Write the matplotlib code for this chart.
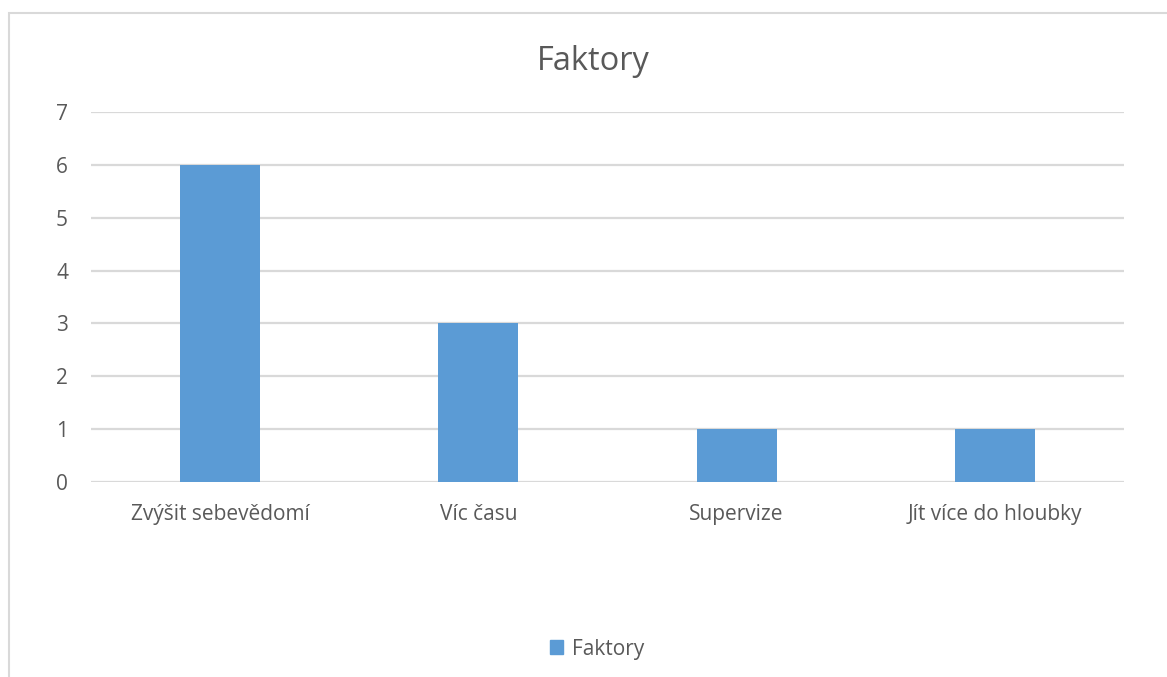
import matplotlib
matplotlib.use("Agg")
import matplotlib.pyplot as plt
from matplotlib.patches import Rectangle, Patch

categories = ["Zvýšit sebevědomí", "Víc času", "Supervize", "Jít více do hloubky"]
values = [6, 3, 1, 1]
series_name = "Faktory"
title = "Faktory"
yticks = [0, 1, 2, 3, 4, 5, 6, 7]

W, H = 1167, 677
fig = plt.figure(figsize=(W / 100, H / 100), dpi=100)
plt.rcParams['font.family'] = ['Open Sans', 'DejaVu Sans']

txt = "#595959"
bar_color = "#5B9BD5"
grid_color = "#D9D9D9"

# chart border
fig.patches.append(Rectangle((9 / W, -0.01), 1.0, 1 - 13 / H + 0.01, transform=fig.transFigure,
                             fill=False, edgecolor=grid_color, linewidth=1.5))

ax = fig.add_axes([91 / W, 1 - 482 / H, (1124 - 91) / W, (482 - 112) / H])
x = list(range(len(categories)))
ax.bar(x, values, width=0.31, color=bar_color, zorder=3)
ax.set_xlim(-0.5, len(categories) - 0.5)
ax.set_ylim(0, 7)
ax.set_yticks(yticks)
ax.set_xticks(x)
ax.set_xticklabels(categories)
ax.grid(axis="y", color=grid_color, linewidth=1.6, zorder=0)
for s in ax.spines.values():
    s.set_visible(False)
ax.tick_params(axis="both", length=0, colors=txt, labelsize=15)
ax.tick_params(axis="y", pad=16.5)
ax.tick_params(axis="x", pad=16)

fig.text(593 / W, 1 - 62 / H, title, ha="center", va="center", fontsize=23.5, color=txt)

leg = fig.legend(handles=[Patch(color=bar_color, label=series_name)], loc="center",
                 bbox_to_anchor=(597 / W, 1 - 649 / H), frameon=False, fontsize=15,
                 handlelength=0.65, handleheight=0.65, handletextpad=0.4)
for t in leg.get_texts():
    t.set_color(txt)

fig.savefig("out.png", dpi=100, facecolor="white")
